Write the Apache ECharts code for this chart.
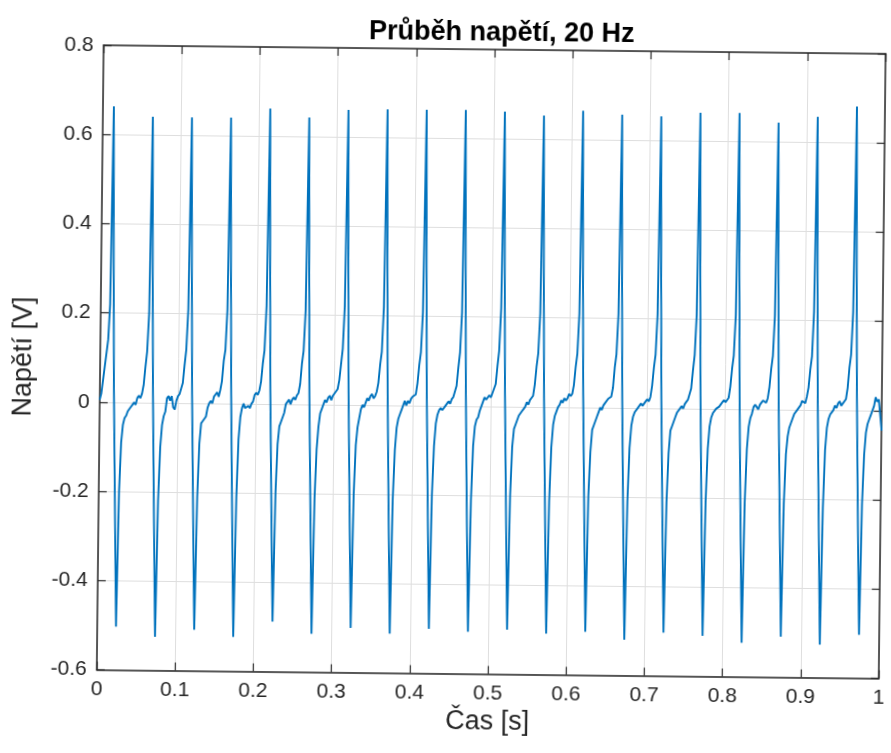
<!DOCTYPE html>
<html>
<head>
<meta charset="utf-8">
<script src="https://cdn.jsdelivr.net/npm/echarts@6/dist/echarts.min.js"></script>
<style>
  html, body { margin: 0; padding: 0; background: #fff; overflow: hidden; }
  #chart { width: 891px; height: 753px; transform: rotate(0.63deg); transform-origin: 50% 50%; }
</style>
</head>
<body>
<div id="chart"></div>
<script>
// ---- data ----
const titleText = 'Průběh napětí, 20 Hz';
const xName = 'Čas [s]';
const yName = 'Napětí [V]';
const xTicks = [0, 0.1, 0.2, 0.3, 0.4, 0.5, 0.6, 0.7, 0.8, 0.9, 1];
const yTicks = [-0.6, -0.4, -0.2, 0, 0.2, 0.4, 0.6, 0.8];
const sampleStep = 0.002; // s between samples

// samples from t = 0 up to the first spike
const leadIn = [0.005, 0.02, 0.05, 0.08, 0.11, 0.14, 0.22];
// each cycle starts at a spike peak and holds 25 samples (50 ms)
const cycle01 = [0.663, 0.31, 0.03, -0.15, -0.33, -0.503, -0.20, -0.09, -0.05, -0.035, -0.03, -0.02, -0.02, -0.01, -0.005, 0.0, -0.005, 0.01, 0.015, 0.01, 0.02, 0.04, 0.08, 0.115, 0.20];
const cycle02 = [0.641, 0.29, 0.02, -0.17, -0.35, -0.525, -0.22, -0.10, -0.05, -0.03, -0.02, 0.01, 0.015, 0.005, 0.015, -0.01, -0.015, 0.005, 0.015, 0.02, 0.02, 0.045, 0.085, 0.12, 0.21];
const cycle03 = [0.640, 0.30, 0.02, -0.16, -0.34, -0.508, -0.21, -0.09, -0.045, -0.04, -0.035, -0.03, -0.01, 0.0, 0.005, 0.0, 0.015, 0.02, 0.025, 0.015, 0.03, 0.05, 0.095, 0.12, 0.21];
const cycle04 = [0.641, 0.30, 0.02, -0.17, -0.35, -0.523, -0.21, -0.08, -0.03, -0.01, 0.0, -0.01, -0.01, -0.005, -0.01, 0.0, 0.005, 0.02, 0.025, 0.02, 0.03, 0.05, 0.09, 0.12, 0.22];
const cycle05 = [0.662, 0.31, 0.03, -0.15, -0.33, -0.488, -0.20, -0.09, -0.05, -0.04, -0.03, -0.02, 0.0, 0.005, 0.01, 0.0, 0.01, 0.015, 0.01, 0.02, 0.025, 0.045, 0.09, 0.12, 0.21];
const cycle06 = [0.643, 0.30, 0.02, -0.16, -0.34, -0.514, -0.21, -0.10, -0.05, -0.02, -0.01, 0.0, 0.01, 0.005, 0.015, 0.02, 0.01, 0.02, 0.025, 0.03, 0.035, 0.055, 0.09, 0.125, 0.22];
const cycle07 = [0.661, 0.31, 0.03, -0.15, -0.33, -0.500, -0.20, -0.09, -0.05, -0.03, -0.01, 0.0, -0.005, 0.005, 0.015, 0.01, 0.02, 0.025, 0.015, 0.02, 0.03, 0.05, 0.09, 0.12, 0.22];
const cycle08 = [0.663, 0.31, 0.03, -0.16, -0.34, -0.512, -0.21, -0.10, -0.05, -0.03, -0.02, -0.01, 0.0, 0.01, 0.0, 0.01, 0.005, 0.015, 0.02, 0.02, 0.025, 0.05, 0.09, 0.12, 0.21];
const cycle09 = [0.663, 0.31, 0.03, -0.15, -0.33, -0.500, -0.20, -0.09, -0.04, -0.02, -0.01, -0.005, -0.01, -0.01, 0.0, 0.005, 0.01, 0.005, 0.015, 0.02, 0.02, 0.045, 0.085, 0.12, 0.21];
const cycle10 = [0.664, 0.31, 0.03, -0.16, -0.34, -0.506, -0.21, -0.09, -0.045, -0.03, -0.025, -0.01, 0.0, 0.01, 0.02, 0.015, 0.02, 0.025, 0.02, 0.03, 0.03, 0.05, 0.09, 0.125, 0.22];
const cycle11 = [0.661, 0.31, 0.03, -0.15, -0.33, -0.500, -0.20, -0.09, -0.05, -0.04, -0.03, -0.02, -0.02, -0.01, -0.005, 0.0, 0.01, 0.005, 0.015, 0.02, 0.025, 0.05, 0.09, 0.12, 0.21];
const cycle12 = [0.653, 0.30, 0.02, -0.16, -0.34, -0.508, -0.21, -0.09, -0.04, -0.02, -0.01, 0.0, 0.005, 0.015, 0.01, 0.02, 0.015, 0.02, 0.03, 0.025, 0.03, 0.05, 0.09, 0.12, 0.21];
const cycle13 = [0.665, 0.31, 0.03, -0.15, -0.33, -0.503, -0.20, -0.10, -0.05, -0.04, -0.03, -0.02, -0.01, 0.0, -0.005, 0.005, 0.01, 0.01, 0.02, 0.02, 0.025, 0.045, 0.09, 0.12, 0.21];
const cycle14 = [0.657, 0.30, 0.02, -0.17, -0.35, -0.520, -0.21, -0.09, -0.04, -0.02, -0.01, -0.01, 0.0, 0.005, 0.01, 0.005, 0.01, 0.015, 0.02, 0.015, 0.025, 0.05, 0.09, 0.12, 0.21];
const cycle15 = [0.654, 0.30, 0.02, -0.16, -0.34, -0.503, -0.21, -0.10, -0.05, -0.04, -0.03, -0.02, -0.01, -0.01, 0.0, 0.005, 0.0, 0.01, 0.015, 0.02, 0.02, 0.045, 0.085, 0.12, 0.21];
const cycle16 = [0.663, 0.31, 0.03, -0.16, -0.34, -0.509, -0.21, -0.09, -0.04, -0.02, -0.01, -0.01, 0.0, 0.0, 0.005, 0.01, 0.01, 0.02, 0.015, 0.02, 0.025, 0.05, 0.09, 0.12, 0.21];
const cycle17 = [0.664, 0.31, 0.03, -0.17, -0.35, -0.524, -0.21, -0.09, -0.04, -0.02, -0.01, 0.005, 0.01, 0.005, 0.0, 0.01, 0.015, 0.02, 0.02, 0.015, 0.025, 0.05, 0.09, 0.12, 0.21];
const cycle18 = [0.643, 0.30, 0.02, -0.16, -0.34, -0.509, -0.21, -0.10, -0.06, -0.04, -0.03, -0.02, -0.01, -0.01, 0.0, 0.005, 0.01, 0.02, 0.02, 0.015, 0.03, 0.05, 0.09, 0.12, 0.22];
const cycle19 = [0.657, 0.30, 0.02, -0.17, -0.35, -0.526, -0.22, -0.09, -0.04, -0.02, -0.01, -0.005, 0.0, 0.01, 0.005, 0.015, 0.02, 0.01, 0.015, 0.02, 0.025, 0.05, 0.095, 0.125, 0.22];
// last cycle is cut at t = 1 s
const cycle20 = [0.681, 0.31, 0.03, -0.16, -0.34, -0.503, -0.21, -0.10, -0.05, -0.03, -0.02, -0.01, 0.0, 0.01, 0.03, 0.02, 0.025, -0.01, -0.045];

// ---- build series ----
const voltage = [].concat(leadIn, cycle01, cycle02, cycle03, cycle04, cycle05, cycle06, cycle07,
  cycle08, cycle09, cycle10, cycle11, cycle12, cycle13, cycle14, cycle15, cycle16, cycle17,
  cycle18, cycle19, cycle20);
const seriesData = voltage.map((v, i) => [Math.round(i * sampleStep * 1000) / 1000, v]);

const FONT = '"Liberation Sans", Arial, Helvetica, sans-serif';
const AXIS_COLOR = '#262626';
const GRID_COLOR = '#dedede';

const xMin = xTicks[0], xMax = xTicks[xTicks.length - 1], xInt = xTicks[1] - xTicks[0];
const yMin = yTicks[0], yMax = yTicks[yTicks.length - 1], yInt = +(yTicks[1] - yTicks[0]).toFixed(3);

const fmt = v => String(+v.toFixed(2));

const chart = echarts.init(document.getElementById('chart'), null, { renderer: 'canvas' });
chart.setOption({
  animation: false,
  backgroundColor: '#ffffff',
  title: {
    text: titleText,
    left: 493,
    top: 14,
    textAlign: 'center',
    textStyle: { fontFamily: FONT, fontSize: 27, fontWeight: 'bold', color: '#000' }
  },
  grid: { left: 100, top: 49, width: 790, height: 624.5, containLabel: false },
  xAxis: [{
    type: 'value', min: xMin, max: xMax, interval: xInt,
    name: xName, nameLocation: 'middle', nameGap: 26,
    nameTextStyle: { fontFamily: FONT, fontSize: 27, color: AXIS_COLOR },
    axisLine: { show: true, onZero: false, lineStyle: { color: AXIS_COLOR, width: 1.5 } },
    axisTick: { show: true, inside: true, length: 8, lineStyle: { color: AXIS_COLOR, width: 1.2 } },
    axisLabel: { margin: 9, fontFamily: FONT, fontSize: 21, color: AXIS_COLOR, formatter: fmt },
    splitLine: { show: true, lineStyle: { color: GRID_COLOR, width: 1 } }
  }, {
    type: 'value', min: xMin, max: xMax, interval: xInt, position: 'top',
    axisLine: { show: true, onZero: false, lineStyle: { color: AXIS_COLOR, width: 1.5 } },
    axisTick: { show: true, inside: true, length: 8, lineStyle: { color: AXIS_COLOR, width: 1.2 } },
    axisLabel: { show: false }, splitLine: { show: false }
  }],
  yAxis: [{
    type: 'value', min: yMin, max: yMax, interval: yInt,
    name: yName, nameLocation: 'middle', nameGap: 63, nameRotate: 90,
    nameTextStyle: { fontFamily: FONT, fontSize: 27, color: AXIS_COLOR },
    axisLine: { show: true, onZero: false, lineStyle: { color: AXIS_COLOR, width: 1.5 } },
    axisTick: { show: true, inside: true, length: 8, lineStyle: { color: AXIS_COLOR, width: 1.2 } },
    axisLabel: { margin: 10, fontFamily: FONT, fontSize: 21, color: AXIS_COLOR, formatter: fmt },
    splitLine: { show: true, lineStyle: { color: GRID_COLOR, width: 1 } }
  }, {
    type: 'value', min: yMin, max: yMax, interval: yInt, position: 'right',
    axisLine: { show: true, onZero: false, lineStyle: { color: AXIS_COLOR, width: 1.5 } },
    axisTick: { show: true, inside: true, length: 8, lineStyle: { color: AXIS_COLOR, width: 1.2 } },
    axisLabel: { show: false }, splitLine: { show: false }
  }],
  series: [{
    type: 'line',
    xAxisIndex: 0, yAxisIndex: 0,
    data: seriesData,
    showSymbol: false,
    symbol: 'none',
    lineStyle: { color: '#0072BD', width: 1.9 },
    z: 3
  }]
});
</script>
</body>
</html>
